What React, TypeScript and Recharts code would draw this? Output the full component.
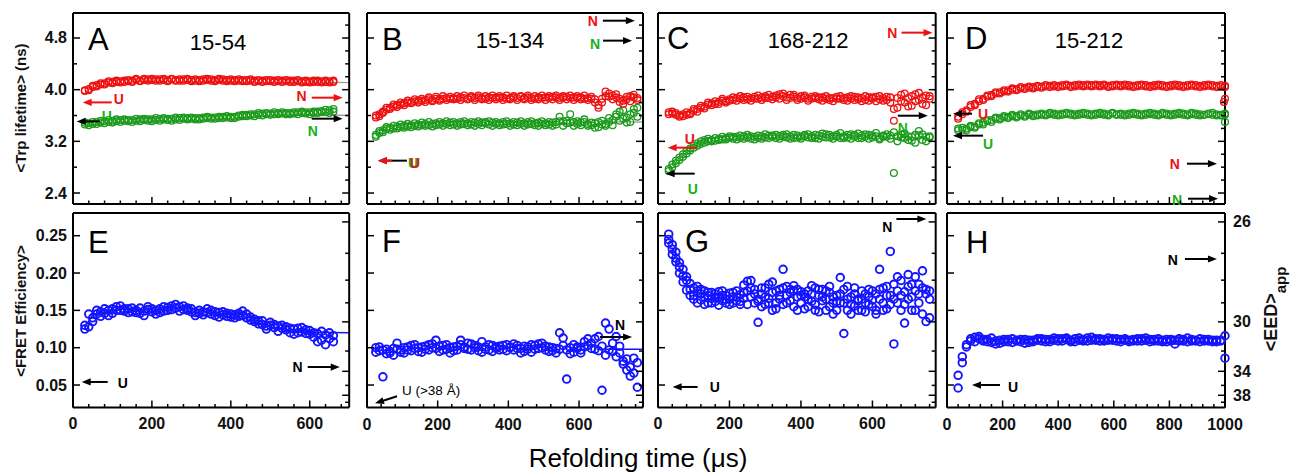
import React from 'react';
import { ComposedChart, Scatter, Line, XAxis, YAxis } from 'recharts';

const FONT = '"Liberation Sans", Arial, Helvetica, sans-serif';
const RED = '#ee1111';
const GREEN = '#1c9a1c';
const GREEN_T = '#17b017';
const BLUE = '#1414ff';
const GRAY = '#9a9a9a';

// ---------------- sampling times (µs) ----------------
const timesA = [30,40,50,60,70,80,90,100,110,120,130,140,150,160,170,180,190,200,210,220,230,240,250,260,270,280,290,300,310,320,330,340,350,360,370,380,390,400,410,420,430,440,450,460,470,480,490,500,510,520,530,540,550,560,570,580,590,600,610,620,630,640,650,660];
const timesB = [25,35,45,55,65,75,85,95,105,115,125,135,145,155,165,175,185,195,205,215,225,235,245,255,265,275,285,295,305,315,325,335,345,355,365,375,385,395,405,415,425,435,445,455,465,475,485,495,505,515,525,535,545,555,565,575,585,595,605,615,625,635,645,655,665,675,685,695,705,715,725,735,745,755,765];
const timesC = [30,40,50,60,70,80,90,100,110,120,130,140,150,160,170,180,190,200,210,220,230,240,250,260,270,280,290,300,310,320,330,340,350,360,370,380,390,400,410,420,430,440,450,460,470,480,490,500,510,520,530,540,550,560,570,580,590,600,610,620,630,640,650,660,670,680,690,700,710,720,730,740,750,760];
const timesD = [40,55,70,85,100,115,130,145,160,175,190,205,220,235,250,265,280,295,310,325,340,355,370,385,400,415,430,445,460,475,490,505,520,535,550,565,580,595,610,625,640,655,670,685,700,715,730,745,760,775,790,805,820,835,850,865,880,895,910,925,940,955,970,985,1000];

// ---------------- Trp lifetime (ns) ----------------
const redA = [3.98,4.01,4.04,4.07,4.08,4.10,4.11,4.12,4.12,4.13,4.14,4.13,4.14,4.15,4.14,4.15,4.16,4.15,4.14,4.16,4.15,4.15,4.16,4.15,4.14,4.16,4.15,4.15,4.14,4.15,4.16,4.15,4.14,4.15,4.15,4.14,4.15,4.14,4.15,4.14,4.13,4.15,4.14,4.14,4.13,4.14,4.15,4.13,4.14,4.13,4.14,4.13,4.12,4.14,4.13,4.13,4.12,4.13,4.14,4.12,4.13,4.12,4.13,4.12];
const redA2 = [3.99,3.99,4.06,4.05,4.10,4.08,4.13,4.10,4.14,4.11,4.12,4.15,4.12,4.17,4.13,4.17,4.14,4.17,4.16,4.14,4.17,4.13,4.17,4.14,4.16,4.14,4.17,4.13,4.16,4.13,4.14,4.17,4.16,4.13,4.17,4.16,4.13,4.16,4.13,4.16,4.15,4.13,4.16,4.12,4.15,4.12,4.13,4.15,4.12,4.15,4.12,4.15,4.14,4.12,4.15,4.11,4.14,4.11,4.12,4.14,4.11,4.14,4.11,4.14];
const greenA = [3.46,3.48,3.47,3.50,3.49,3.51,3.50,3.52,3.51,3.53,3.52,3.51,3.53,3.52,3.54,3.53,3.52,3.54,3.53,3.55,3.54,3.53,3.55,3.54,3.56,3.55,3.56,3.55,3.54,3.56,3.57,3.56,3.55,3.57,3.56,3.58,3.57,3.56,3.58,3.60,3.59,3.61,3.60,3.62,3.61,3.63,3.62,3.63,3.62,3.64,3.63,3.62,3.64,3.63,3.65,3.64,3.63,3.65,3.64,3.66,3.67,3.65,3.68,3.66];
const greenA2 = [3.49,3.45,3.50,3.47,3.52,3.48,3.53,3.49,3.54,3.50,3.54,3.53,3.50,3.55,3.51,3.55,3.54,3.51,3.56,3.52,3.56,3.55,3.52,3.57,3.53,3.57,3.54,3.57,3.56,3.54,3.55,3.58,3.57,3.55,3.58,3.56,3.59,3.58,3.56,3.58,3.61,3.59,3.62,3.59,3.64,3.60,3.64,3.61,3.65,3.62,3.65,3.64,3.62,3.65,3.62,3.66,3.65,3.62,3.66,3.64,3.65,3.69,3.64,3.70];

const redB = [3.57,3.62,3.66,3.69,3.72,3.74,3.76,3.77,3.79,3.80,3.81,3.82,3.83,3.83,3.84,3.85,3.84,3.86,3.85,3.86,3.87,3.86,3.87,3.86,3.88,3.87,3.86,3.88,3.87,3.88,3.87,3.86,3.88,3.87,3.88,3.87,3.88,3.86,3.87,3.88,3.87,3.89,3.87,3.88,3.87,3.86,3.88,3.87,3.88,3.87,3.89,3.88,3.87,3.88,3.89,3.87,3.88,3.87,3.88,3.86,3.87,3.86,3.85,3.72,3.80,3.90,3.94,3.91,3.88,3.86,3.83,3.85,3.90,3.88,3.84];
const redB2 = [3.60,3.59,3.64,3.72,3.70,3.77,3.73,3.80,3.76,3.83,3.79,3.85,3.80,3.86,3.81,3.88,3.82,3.89,3.83,3.90,3.84,3.89,3.85,3.90,3.84,3.91,3.85,3.90,3.84,3.91,3.85,3.90,3.84,3.91,3.85,3.90,3.84,3.91,3.85,3.90,3.84,3.90,3.85,3.91,3.84,3.90,3.85,3.91,3.84,3.90,3.85,3.91,3.84,3.90,3.85,3.91,3.84,3.90,3.85,3.91,3.84,3.89,3.80,3.76,3.86,3.97,3.89,3.85,3.93,3.81,3.78,3.89,3.82,3.92,3.87];
const greenB = [3.27,3.33,3.37,3.39,3.41,3.40,3.43,3.42,3.44,3.43,3.45,3.44,3.46,3.45,3.47,3.45,3.47,3.48,3.46,3.48,3.47,3.49,3.46,3.48,3.50,3.47,3.48,3.46,3.49,3.47,3.49,3.48,3.46,3.49,3.47,3.48,3.50,3.47,3.48,3.46,3.49,3.47,3.48,3.50,3.47,3.48,3.49,3.47,3.48,3.46,3.49,3.50,3.58,3.51,3.48,3.62,3.50,3.47,3.49,3.54,3.47,3.45,3.48,3.42,3.46,3.44,3.50,3.53,3.58,3.66,3.55,3.49,3.62,3.70,3.58];
const greenB2 = [3.30,3.36,3.34,3.42,3.38,3.44,3.40,3.46,3.41,3.47,3.42,3.48,3.43,3.49,3.44,3.50,3.43,3.45,3.50,3.44,3.51,3.45,3.50,3.44,3.46,3.51,3.45,3.50,3.44,3.51,3.45,3.50,3.51,3.44,3.50,3.45,3.46,3.51,3.44,3.50,3.45,3.51,3.44,3.46,3.51,3.45,3.44,3.51,3.45,3.50,3.44,3.46,3.51,3.44,3.52,3.49,3.44,3.51,3.45,3.50,3.44,3.49,3.41,3.50,3.52,3.47,3.56,3.45,3.62,3.52,3.68,3.57,3.50,3.64,3.72];

const redC = [3.65,3.63,3.61,3.60,3.62,3.61,3.64,3.67,3.70,3.72,3.74,3.77,3.79,3.78,3.81,3.83,3.82,3.85,3.84,3.87,3.86,3.88,3.85,3.87,3.89,3.86,3.88,3.90,3.87,3.89,3.91,3.93,3.90,3.88,3.92,3.89,3.87,3.90,3.88,3.86,3.89,3.87,3.85,3.88,3.86,3.84,3.87,3.89,3.86,3.84,3.88,3.86,3.89,3.85,3.87,3.84,3.88,3.86,3.89,3.85,3.87,3.84,3.88,3.52,3.72,3.92,3.80,3.87,3.75,3.93,3.84,3.78,3.91,3.86];
const redC2 = [3.62,3.66,3.64,3.58,3.59,3.65,3.62,3.70,3.66,3.75,3.71,3.80,3.76,3.82,3.78,3.86,3.80,3.83,3.88,3.83,3.90,3.84,3.89,3.83,3.86,3.91,3.84,3.87,3.92,3.85,3.88,3.86,3.94,3.84,3.87,3.92,3.84,3.86,3.91,3.83,3.86,3.90,3.88,3.83,3.90,3.87,3.82,3.86,3.90,3.87,3.83,3.90,3.84,3.88,3.82,3.90,3.83,3.88,3.82,3.90,3.83,3.89,3.80,3.70,3.87,3.82,3.94,3.74,3.90,3.82,3.95,3.88,3.76,3.90];
const greenC = [2.74,2.80,2.86,2.91,2.96,3.01,3.06,3.10,3.13,3.16,3.18,3.20,3.22,3.21,3.24,3.23,3.25,3.26,3.24,3.27,3.25,3.28,3.26,3.24,3.27,3.25,3.28,3.26,3.29,3.27,3.25,3.28,3.30,3.26,3.28,3.25,3.29,3.27,3.30,3.26,3.28,3.25,3.29,3.27,3.31,3.26,3.28,3.30,3.25,3.28,3.26,3.31,3.27,3.25,3.29,3.27,3.30,3.26,3.28,3.25,3.29,3.27,3.24,2.71,3.28,3.31,3.25,3.22,3.27,3.18,3.29,3.22,3.27,3.26];
const greenC2 = [2.77,2.84,2.90,2.95,3.00,3.05,3.09,3.14,3.17,3.20,3.22,3.24,3.20,3.25,3.22,3.27,3.23,3.28,3.27,3.23,3.29,3.24,3.30,3.28,3.23,3.29,3.24,3.31,3.25,3.29,3.30,3.24,3.27,3.31,3.24,3.30,3.26,3.24,3.28,3.31,3.25,3.30,3.24,3.32,3.26,3.30,3.24,3.27,3.33,3.25,3.30,3.24,3.30,3.32,3.25,3.31,3.24,3.29,3.33,3.23,3.27,3.31,3.29,3.34,3.20,3.26,3.32,3.28,3.21,3.30,3.36,3.31,3.20,3.28];

const redD = [3.55,3.62,3.68,3.73,3.78,3.82,3.86,3.89,3.92,3.94,3.96,3.97,3.99,4.00,4.01,4.02,4.03,4.03,4.04,4.04,4.05,4.05,4.06,4.05,4.06,4.07,4.06,4.06,4.07,4.06,4.07,4.06,4.07,4.06,4.07,4.06,4.06,4.07,4.06,4.07,4.06,4.05,4.06,4.07,4.06,4.05,4.06,4.07,4.06,4.05,4.06,4.07,4.06,4.05,4.06,4.07,4.06,4.05,4.06,4.07,4.06,4.05,4.06,4.05,4.04];
const redD2 = [3.58,3.65,3.66,3.76,3.76,3.85,3.84,3.91,3.90,3.96,3.94,3.99,3.97,4.02,3.99,4.04,4.01,4.05,4.02,4.06,4.03,4.07,4.04,4.07,4.04,4.05,4.08,4.04,4.05,4.08,4.05,4.08,4.05,4.08,4.05,4.08,4.04,4.05,4.08,4.05,4.08,4.07,4.04,4.05,4.08,4.07,4.04,4.05,4.08,4.07,4.04,4.05,4.08,4.07,4.04,4.05,4.08,4.07,4.04,4.05,4.08,4.07,4.04,4.07,4.06];
const greenD = [3.40,3.38,3.40,3.42,3.43,3.46,3.49,3.51,3.53,3.55,3.56,3.57,3.58,3.59,3.59,3.60,3.60,3.61,3.61,3.62,3.61,3.62,3.62,3.61,3.62,3.63,3.62,3.61,3.62,3.63,3.62,3.61,3.62,3.63,3.62,3.61,3.62,3.63,3.62,3.61,3.62,3.63,3.62,3.61,3.62,3.63,3.62,3.61,3.62,3.62,3.61,3.62,3.63,3.62,3.61,3.62,3.62,3.61,3.62,3.61,3.62,3.61,3.60,3.61,3.61];
const greenD2 = [3.37,3.41,3.37,3.44,3.41,3.48,3.46,3.53,3.50,3.57,3.54,3.59,3.56,3.61,3.57,3.62,3.58,3.63,3.59,3.60,3.63,3.60,3.64,3.63,3.60,3.61,3.64,3.63,3.60,3.61,3.64,3.63,3.60,3.61,3.64,3.63,3.60,3.64,3.61,3.63,3.60,3.61,3.64,3.63,3.60,3.61,3.64,3.63,3.60,3.64,3.63,3.60,3.61,3.64,3.63,3.60,3.64,3.63,3.60,3.61,3.63,3.64,3.62,3.60,3.63];
const redDOutlierTimes = [1000, 996];
const redDOutliers = [3.86, 3.81];
const greenDOutlierTimes = [1000];
const greenDOutliers = [3.50];

// ---------------- FRET efficiency ----------------
const blueE1 = [0.125,0.128,0.140,0.145,0.148,0.146,0.150,0.152,0.155,0.150,0.149,0.152,0.148,0.150,0.146,0.149,0.151,0.148,0.150,0.152,0.149,0.154,0.156,0.153,0.155,0.151,0.150,0.148,0.147,0.146,0.148,0.152,0.145,0.143,0.147,0.144,0.142,0.141,0.140,0.146,0.149,0.140,0.137,0.135,0.136,0.131,0.129,0.130,0.127,0.129,0.126,0.124,0.120,0.125,0.126,0.121,0.124,0.118,0.114,0.119,0.110,0.117,0.112,0.116];
const blueE2 = [0.130,0.145,0.135,0.150,0.142,0.152,0.143,0.146,0.150,0.156,0.152,0.147,0.153,0.147,0.153,0.143,0.155,0.152,0.145,0.147,0.155,0.150,0.151,0.158,0.149,0.156,0.153,0.152,0.143,0.150,0.144,0.147,0.150,0.148,0.141,0.148,0.146,0.145,0.144,0.142,0.143,0.145,0.141,0.138,0.132,0.136,0.125,0.134,0.131,0.122,0.130,0.128,0.126,0.118,0.120,0.127,0.119,0.123,0.120,0.108,0.122,0.104,0.120,0.108];
const blueF1 = [0.094,0.101,0.097,0.092,0.095,0.090,0.098,0.094,0.100,0.097,0.103,0.099,0.095,0.101,0.098,0.104,0.100,0.110,0.102,0.097,0.104,0.100,0.096,0.102,0.110,0.101,0.098,0.105,0.100,0.096,0.108,0.101,0.097,0.103,0.099,0.102,0.098,0.104,0.100,0.097,0.103,0.099,0.095,0.101,0.104,0.098,0.105,0.100,0.097,0.101,0.096,0.099,0.120,0.103,0.058,0.100,0.094,0.101,0.097,0.108,0.103,0.099,0.112,0.096,0.043,0.133,0.125,0.095,0.088,0.102,0.082,0.070,0.062,0.086,0.047];
const blueF2 = [0.100,0.096,0.061,0.098,0.093,0.099,0.106,0.097,0.093,0.101,0.096,0.104,0.100,0.094,0.102,0.097,0.105,0.099,0.095,0.103,0.098,0.093,0.101,0.097,0.104,0.099,0.106,0.097,0.103,0.101,0.094,0.098,0.104,0.095,0.101,0.097,0.103,0.096,0.101,0.105,0.099,0.093,0.102,0.098,0.094,0.103,0.099,0.106,0.102,0.095,0.100,0.093,0.098,0.113,0.097,0.092,0.104,0.099,0.093,0.101,0.112,0.106,0.098,0.115,0.102,0.090,0.097,0.106,0.115,0.093,0.078,0.085,0.074,0.066,0.080];
const blueG1 = [0.252,0.238,0.228,0.214,0.205,0.195,0.186,0.180,0.176,0.172,0.168,0.170,0.166,0.172,0.168,0.163,0.170,0.165,0.168,0.163,0.171,0.184,0.176,0.168,0.160,0.134,0.172,0.180,0.166,0.174,0.160,0.178,0.205,0.170,0.163,0.176,0.168,0.160,0.172,0.165,0.183,0.158,0.170,0.163,0.176,0.155,0.168,0.162,0.194,0.119,0.165,0.158,0.172,0.163,0.176,0.160,0.168,0.155,0.172,0.205,0.160,0.170,0.229,0.105,0.176,0.190,0.133,0.182,0.168,0.195,0.160,0.203,0.172,0.165];
const blueG2 = [0.245,0.232,0.220,0.208,0.196,0.190,0.178,0.170,0.182,0.164,0.176,0.160,0.174,0.162,0.175,0.170,0.160,0.173,0.160,0.176,0.158,0.166,0.189,0.180,0.172,0.162,0.155,0.168,0.185,0.150,0.176,0.165,0.158,0.182,0.174,0.155,0.178,0.170,0.152,0.176,0.162,0.150,0.178,0.168,0.150,0.174,0.145,0.170,0.160,0.178,0.150,0.168,0.156,0.165,0.150,0.172,0.158,0.176,0.150,0.165,0.180,0.152,0.170,0.185,0.160,0.150,0.175,0.198,0.150,0.176,0.185,0.145,0.178,0.140];
const blueG3 = [0.240,0.225,0.215,0.200,0.188,0.177,0.170,0.165,0.160,0.178,0.158,0.174,0.160,0.168,0.157,0.176,0.165,0.158,0.174,0.168,0.162,0.174,0.158,0.190,0.178,0.165,0.180,0.158,0.160,0.188,0.152,0.170,0.180,0.160,0.178,0.183,0.150,0.175,0.168,0.155,0.172,0.180,0.148,0.178,0.165,0.182,0.160,0.150,0.172,0.160,0.182,0.145,0.180,0.150,0.165,0.148,0.178,0.164,0.145,0.178,0.150,0.182,0.158,0.165,0.195,0.170,0.158,0.165,0.185,0.150,0.172,0.180,0.135,0.176];
const blueH1 = [0.046,0.080,0.101,0.109,0.114,0.112,0.109,0.111,0.107,0.105,0.110,0.108,0.111,0.107,0.110,0.108,0.111,0.107,0.110,0.112,0.109,0.111,0.108,0.110,0.112,0.109,0.111,0.108,0.112,0.110,0.109,0.113,0.110,0.112,0.109,0.111,0.110,0.112,0.109,0.111,0.110,0.108,0.111,0.109,0.112,0.110,0.108,0.111,0.109,0.110,0.108,0.111,0.105,0.109,0.111,0.113,0.109,0.110,0.108,0.111,0.109,0.110,0.108,0.110,0.116];
const blueH2 = [0.063,0.088,0.104,0.112,0.108,0.115,0.111,0.108,0.113,0.109,0.106,0.111,0.108,0.112,0.109,0.111,0.106,0.110,0.108,0.110,0.112,0.108,0.111,0.113,0.109,0.112,0.113,0.110,0.108,0.113,0.111,0.109,0.114,0.110,0.112,0.109,0.113,0.110,0.112,0.108,0.112,0.110,0.109,0.112,0.109,0.113,0.111,0.109,0.112,0.108,0.111,0.109,0.110,0.112,0.109,0.108,0.111,0.109,0.112,0.109,0.111,0.108,0.110,0.109,0.086];

// fitted curve tails
const fitRedATimes = [600, 700]; const fitRedA = [4.12, 4.11];
const fitGreenATimes = [640, 700]; const fitGreenA = [3.61, 3.60];
const fitRedBTimes = [700, 780]; const fitRedB = [3.88, 3.88];
const fitGreenBTimes = [700, 780]; const fitGreenB = [3.50, 3.50];
const fitETimes = [560, 700]; const fitE = [0.121, 0.120];
const fitFTimes = [650, 780]; const fitF = [0.098, 0.098];

// ---------------- axis tick labels ----------------
const xLabels800 = [0, 200, 400, 600];
const xLabels1000 = [0, 200, 400, 600, 800, 1000];
const yLabelsTop = [2.4, 3.2, 4.0, 4.8];
const yLeftTicksTop = [2.4, 2.8, 3.2, 3.6, 4.0, 4.4, 4.8];
const yRightTicksTop = [2.4, 2.6, 2.8, 3.0, 3.2, 3.4, 3.6, 3.8, 4.0, 4.2, 4.4, 4.6, 4.8, 5.0];
const yLabelsBottom = [0.05, 0.10, 0.15, 0.20, 0.25];
const eedLabels = [26, 30, 34, 38];
const eedTicks = [26, 27, 28, 29, 30, 32, 34, 36, 38, 40];
const R0 = 22; // Förster distance (Å) used for the <EED>app scale
const eedToE = (r: number) => 1 / (1 + Math.pow(r / R0, 6));
const eedTickValues = eedTicks.map(eedToE);

const near = (a: number, list: number[], tol = 1e-6) => list.some((b) => Math.abs(a - b) < tol);
const unionSorted = (a: number[], b: number[]) => {
  const out = [...a];
  b.forEach((v) => { if (!near(v, out)) out.push(v); });
  return out.sort((x, y) => x - y);
};
const yTicksTopAll = unionSorted(yLeftTicksTop, yRightTicksTop);
const yTicksBottomAll = unionSorted(yLabelsBottom, eedTickValues);

const xTicksFor = (xMax: number) => {
  const out: number[] = [];
  for (let t = 0; t <= xMax + 1e-9; t += 40) out.push(t);
  return out;
};
const xTicks700 = xTicksFor(700);
const xTicks781 = xTicksFor(781);
const xTicks777 = xTicksFor(777);
const xTicks1000 = xTicksFor(1000);

const pts = (ts: number[], vs: number[]) => ts.map((t, i) => ({ t, v: vs[i] }));

// ---------------- layout ----------------
const PADL = 50, PADR = 50, PADT = 10, PADB = 40;

type Ann = {
  t: number; v: number; dir: 'L' | 'R' | 'D' | 'none'; len?: number; tdx?: number; tdy?: number;
  arrow?: string; label: string; color: string; dx: number; dy: number; anchor?: string;
  size?: number; weight?: number;
};

const annA: Ann[] = [
  { t: 24.6, v: 3.803, dir: 'L', len: 29, arrow: RED, label: 'U', color: RED, dx: 31, dy: 1.5 },
  { t: 683.6, v: 3.876, dir: 'R', len: 31, arrow: RED, label: 'N', color: RED, dx: -36, dy: 3, anchor: 'end' },
  { t: 9.4, v: 3.509, dir: 'L', len: 23, arrow: '#000', label: 'U', color: GREEN_T, dx: 25, dy: -0.5 },
  { t: 683.6, v: 3.551, dir: 'R', len: 31, arrow: '#000', label: 'N', color: GREEN_T, dx: -35, dy: 17 },
];
const annB: Ann[] = [
  { t: 758, v: 5.068, dir: 'R', len: 32, arrow: '#000', label: 'N', color: RED, dx: -37, dy: 5, anchor: 'end' },
  { t: 750, v: 4.759, dir: 'R', len: 29, arrow: '#000', label: 'N', color: GREEN_T, dx: -32, dy: 8, anchor: 'end' },
  { t: 31, v: 2.901, dir: 'L', len: 29, arrow: '#000', label: 'U', color: GREEN_T, dx: 30, dy: 7 },
  { t: 31, v: 2.901, dir: 'L', len: 14, arrow: RED, label: 'U', color: RED, dx: 32, dy: 7 },
];
const annC: Ann[] = [
  { t: 768, v: 4.883, dir: 'R', len: 31, arrow: RED, label: 'N', color: RED, dx: -35, dy: 5, anchor: 'end' },
  { t: 755, v: 3.597, dir: 'R', len: 30, arrow: '#000', label: 'N', color: GREEN_T, dx: -30, dy: 17 },
  { t: 27, v: 3.102, dir: 'L', len: 29, arrow: RED, label: 'U', color: RED, dx: 17, dy: -4 },
  { t: 21.5, v: 2.7, dir: 'L', len: 29, arrow: '#000', label: 'U', color: GREEN_T, dx: 22, dy: 20 },
];
const annD: Ann[] = [
  { t: 21.6, v: 3.628, dir: 'L', len: 19, arrow: '#000', label: 'U', color: RED, dx: 25, dy: 5 },
  { t: 21.6, v: 3.288, dir: 'L', len: 30, arrow: '#000', label: 'U', color: GREEN_T, dx: 30, dy: 13 },
  { t: 971, v: 2.854, dir: 'R', len: 30, arrow: '#000', label: 'N', color: RED, dx: -37, dy: 5, anchor: 'end' },
  { t: 975, v: 2.312, dir: 'R', len: 30, arrow: '#000', label: 'N', color: GREEN_T, dx: -36, dy: 6, anchor: 'end' },
];
const annE: Ann[] = [
  { t: 22, v: 0.0541, dir: 'L', len: 26, arrow: '#000', label: 'U', color: '#000', dx: 36, dy: 6 },
  { t: 676, v: 0.0741, dir: 'R', len: 32, arrow: '#000', label: 'N', color: '#000', dx: -37, dy: 5, anchor: 'end' },
];
const annF: Ann[] = [
  { t: 22.6, v: 0.0255, dir: 'D', tdx: 22, tdy: -7, arrow: '#000', label: 'U (>38 Å)', color: '#000', dx: 27, dy: -8, size: 13.5, weight: 400 },
  { t: 750, v: 0.1143, dir: 'R', len: 32, arrow: '#000', label: 'N', color: '#000', dx: -17, dy: -7 },
];
const annG: Ann[] = [
  { t: 751, v: 0.2724, dir: 'R', len: 30, arrow: '#000', label: 'N', color: '#000', dx: -34, dy: 13, anchor: 'end' },
  { t: 41, v: 0.0474, dir: 'L', len: 25, arrow: '#000', label: 'U', color: '#000', dx: 37, dy: 5 },
];
const annH: Ann[] = [
  { t: 971, v: 0.2188, dir: 'R', len: 32, arrow: '#000', label: 'N', color: '#000', dx: -39, dy: 6, anchor: 'end' },
  { t: 90, v: 0.05, dir: 'L', len: 28, arrow: '#000', label: 'U', color: '#000', dx: 36, dy: 7 },
];

type Series = { data: { t: number; v: number }[]; color: string; r: number; sw: number };
type Fit = { data: { t: number; v: number }[]; color: string; width: number };
type PanelCfg = {
  key: string; left: number; top: number; w: number; h: number; xMax: number; xTicks: number[];
  yDomain: [number, number]; row: 'top' | 'bottom'; xLabels: number[];
  showX: boolean; showY: boolean; showEED: boolean;
  series: Series[]; fits: Fit[]; anns: Ann[];
};

const TOPR = 3.4, TOPSW = 1.3, BOTR = 3.8, BOTSW = 1.9;
const topDomain: [number, number] = [2.23, 5.187];
const botDomain: [number, number] = [0.0199, 0.2804];

const panels: PanelCfg[] = [
  {
    key: 'A', left: 73.3, top: 13, w: 276.2, h: 191, xMax: 700, xTicks: xTicks700, yDomain: topDomain, row: 'top', xLabels: xLabels800,
    showX: false, showY: true, showEED: false,
    series: [
      { data: pts(timesA, greenA), color: GREEN, r: TOPR, sw: TOPSW },
      { data: pts(timesA, greenA2), color: GREEN, r: TOPR, sw: TOPSW },
      { data: pts(timesA, redA), color: RED, r: TOPR, sw: TOPSW },
      { data: pts(timesA, redA2), color: RED, r: TOPR, sw: TOPSW },
    ],
    fits: [
      { data: pts(fitRedATimes, fitRedA), color: GRAY, width: 1.3 },
      { data: pts(fitGreenATimes, fitGreenA), color: GRAY, width: 1.3 },
    ],
    anns: annA,
  },
  {
    key: 'B', left: 367, top: 13, w: 276, h: 191, xMax: 781, xTicks: xTicks781, yDomain: topDomain, row: 'top', xLabels: xLabels800,
    showX: false, showY: false, showEED: false,
    series: [
      { data: pts(timesB, greenB), color: GREEN, r: TOPR, sw: TOPSW },
      { data: pts(timesB, greenB2), color: GREEN, r: TOPR, sw: TOPSW },
      { data: pts(timesB, redB), color: RED, r: TOPR, sw: TOPSW },
      { data: pts(timesB, redB2), color: RED, r: TOPR, sw: TOPSW },
    ],
    fits: [
      { data: pts(fitRedBTimes, fitRedB), color: GRAY, width: 1.3 },
      { data: pts(fitGreenBTimes, fitGreenB), color: GRAY, width: 1.3 },
    ],
    anns: annB,
  },
  {
    key: 'C', left: 658.3, top: 13, w: 277.7, h: 191, xMax: 777, xTicks: xTicks777, yDomain: topDomain, row: 'top', xLabels: xLabels800,
    showX: false, showY: false, showEED: false,
    series: [
      { data: pts(timesC, greenC), color: GREEN, r: TOPR, sw: TOPSW },
      { data: pts(timesC, greenC2), color: GREEN, r: TOPR, sw: TOPSW },
      { data: pts(timesC, redC), color: RED, r: TOPR, sw: TOPSW },
      { data: pts(timesC, redC2), color: RED, r: TOPR, sw: TOPSW },
    ],
    fits: [],
    anns: annC,
  },
  {
    key: 'D', left: 947, top: 13, w: 278, h: 191, xMax: 1000, xTicks: xTicks1000, yDomain: topDomain, row: 'top', xLabels: xLabels1000,
    showX: false, showY: false, showEED: false,
    series: [
      { data: pts(timesD, greenD), color: GREEN, r: TOPR, sw: TOPSW },
      { data: pts(timesD, greenD2), color: GREEN, r: TOPR, sw: TOPSW },
      { data: pts(greenDOutlierTimes, greenDOutliers), color: GREEN, r: TOPR, sw: TOPSW },
      { data: pts(timesD, redD), color: RED, r: TOPR, sw: TOPSW },
      { data: pts(timesD, redD2), color: RED, r: TOPR, sw: TOPSW },
      { data: pts(redDOutlierTimes, redDOutliers), color: RED, r: TOPR, sw: TOPSW },
    ],
    fits: [],
    anns: annD,
  },
  {
    key: 'E', left: 73.3, top: 213, w: 276.2, h: 194.5, xMax: 700, xTicks: xTicks700, yDomain: botDomain, row: 'bottom', xLabels: xLabels800,
    showX: true, showY: true, showEED: false,
    series: [
      { data: pts(timesA, blueE1), color: BLUE, r: BOTR, sw: BOTSW },
      { data: pts(timesA, blueE2), color: BLUE, r: BOTR, sw: BOTSW },
    ],
    fits: [{ data: pts(fitETimes, fitE), color: BLUE, width: 1.6 }],
    anns: annE,
  },
  {
    key: 'F', left: 367, top: 213, w: 276, h: 194.5, xMax: 781, xTicks: xTicks781, yDomain: botDomain, row: 'bottom', xLabels: xLabels800,
    showX: true, showY: false, showEED: false,
    series: [
      { data: pts(timesB, blueF1), color: BLUE, r: BOTR, sw: BOTSW },
      { data: pts(timesB, blueF2), color: BLUE, r: BOTR, sw: BOTSW },
    ],
    fits: [{ data: pts(fitFTimes, fitF), color: BLUE, width: 1.6 }],
    anns: annF,
  },
  {
    key: 'G', left: 658.3, top: 213, w: 277.7, h: 194.5, xMax: 777, xTicks: xTicks777, yDomain: botDomain, row: 'bottom', xLabels: xLabels800,
    showX: true, showY: false, showEED: false,
    series: [
      { data: pts(timesC, blueG1), color: BLUE, r: BOTR, sw: BOTSW },
      { data: pts(timesC, blueG2), color: BLUE, r: BOTR, sw: BOTSW },
      { data: pts(timesC, blueG3), color: BLUE, r: BOTR, sw: BOTSW },
    ],
    fits: [],
    anns: annG,
  },
  {
    key: 'H', left: 947, top: 213, w: 278, h: 194.5, xMax: 1000, xTicks: xTicks1000, yDomain: botDomain, row: 'bottom', xLabels: xLabels1000,
    showX: true, showY: false, showEED: true,
    series: [
      { data: pts(timesD, blueH1), color: BLUE, r: BOTR, sw: BOTSW },
      { data: pts(timesD, blueH2), color: BLUE, r: BOTR, sw: BOTSW },
    ],
    fits: [],
    anns: annH,
  },
];

const circleShape = (color: string, r: number, sw: number) => (p: any) => {
  if (p.cx == null || p.cy == null) return <g />;
  return <circle cx={p.cx} cy={p.cy} r={r} fill="none" stroke={color} strokeWidth={sw} />;
};

function AnnShape(p: any) {
  const { cx, cy } = p;
  const a: Ann = p.payload;
  if (cx == null || cy == null || !a) return <g />;
  const parts: any[] = [];
  if (a.dir !== 'none') {
    let tx = cx, ty = cy;
    if (a.dir === 'L') tx = cx + (a.len || 0);
    else if (a.dir === 'R') tx = cx - (a.len || 0);
    else { tx = cx + (a.tdx || 0); ty = cy + (a.tdy || 0); }
    const ang = Math.atan2(cy - ty, cx - tx);
    const hl = 9, hw = 3.6;
    const bx = cx - hl * Math.cos(ang), by = cy - hl * Math.sin(ang);
    const px = -Math.sin(ang) * hw, py = Math.cos(ang) * hw;
    const col = a.arrow || '#000';
    parts.push(<line key="l" x1={tx} y1={ty} x2={bx + Math.cos(ang) * 2} y2={by + Math.sin(ang) * 2} stroke={col} strokeWidth={2} />);
    parts.push(<polygon key="h" points={`${cx},${cy} ${bx + px},${by + py} ${bx - px},${by - py}`} fill={col} />);
  }
  parts.push(
    <text key="t" x={cx + a.dx} y={cy + a.dy} textAnchor={a.anchor || 'start'} fontFamily={FONT}
      fontSize={a.size || 14} fontWeight={a.weight || 700} fill={a.color}>{a.label}</text>
  );
  return <g>{parts}</g>;
}

const AXIS_LINE = { stroke: '#000', strokeWidth: 2 };
const TICK_STROKE = { stroke: '#000', strokeWidth: 1.5 };
const TXT = { fontFamily: FONT, fontSize: 16, fontWeight: 700, fill: '#111' } as const;

function makeTicks(cfg: PanelCfg) {
  const plotL = PADL, plotR = PADL + cfg.w, plotT = PADT, plotB = PADT + cfg.h;
  const isTop = cfg.row === 'top';
  const leftSet = isTop ? yLeftTicksTop : yLabelsBottom;
  const bottomTick = (p: any) => {
    const x = p.x; const v = p.payload.value;
    const major = near(v, cfg.xLabels);
    return (
      <g>
        <line x1={x} x2={x} y1={plotB} y2={plotB - (major ? 7 : 3.5)} {...TICK_STROKE} />
        {cfg.showX && major ? <text x={x} y={plotB + 22} textAnchor="middle" {...TXT}>{v}</text> : null}
      </g>
    );
  };
  const topTick = (p: any) => {
    const x = p.x; const v = p.payload.value;
    const major = near(v, cfg.xLabels);
    return <line x1={x} x2={x} y1={plotT} y2={plotT + (major ? 7 : 3.5)} {...TICK_STROKE} />;
  };
  // one y tick renderer draws both the left-side and right-side marks
  const yTick = (p: any) => {
    const y = p.y; const v = p.payload.value;
    const parts: any[] = [];
    if (near(v, leftSet)) {
      const major = isTop ? near(v, yLabelsTop) : true;
      parts.push(<line key="ll" x1={plotL} x2={plotL + (major ? 7 : 4)} y1={y} y2={y} {...TICK_STROKE} />);
      if (cfg.showY && major) {
        parts.push(<text key="lt" x={plotL - 6} y={y + 5.5} textAnchor="end" {...TXT}>{isTop ? v.toFixed(1) : v.toFixed(2)}</text>);
      }
    }
    if (isTop) {
      if (near(v, yRightTicksTop)) {
        const major = near(v, yLabelsTop);
        parts.push(<line key="rl" x1={plotR} x2={plotR - (major ? 7 : 4)} y1={y} y2={y} {...TICK_STROKE} />);
      }
    } else {
      const k = eedTickValues.findIndex((e) => Math.abs(e - v) < 1e-9);
      if (k >= 0) {
        const r = eedTicks[k];
        const major = eedLabels.includes(r);
        parts.push(<line key="rl" x1={plotR} x2={plotR - (major ? 7 : 4)} y1={y} y2={y} {...TICK_STROKE} />);
        if (cfg.showEED && major) {
          parts.push(<text key="rt" x={plotR + 8} y={y + 5.5} textAnchor="start" {...TXT}>{String(r)}</text>);
        }
      }
    }
    return <g>{parts}</g>;
  };
  return { bottomTick, topTick, yTick };
}

const panelTicks = panels.map(makeTicks);
const circleShapes = panels.map((p) => p.series.map((s) => circleShape(s.color, s.r, s.sw)));

function Panel({ cfg, idx }: { cfg: PanelCfg; idx: number }) {
  const W = cfg.w + PADL + PADR;
  const H = cfg.h + PADT + PADB;
  const isTop = cfg.row === 'top';
  const yTicks = isTop ? yTicksTopAll : yTicksBottomAll;
  const tk = panelTicks[idx];

  return (
    <div style={{ position: 'absolute', left: cfg.left - PADL, top: cfg.top - PADT, width: W, height: H }}>
      <ComposedChart width={W} height={H} margin={{ top: 0, right: 0, bottom: 0, left: 0 }}>
        <XAxis xAxisId="b" type="number" dataKey="t" domain={[0, cfg.xMax]} ticks={cfg.xTicks} interval={0}
          height={PADB} tickLine={false} tickSize={0} tickMargin={0} axisLine={AXIS_LINE} tick={tk.bottomTick} />
        <XAxis xAxisId="t" orientation="top" type="number" dataKey="t" domain={[0, cfg.xMax]} ticks={cfg.xTicks} interval={0}
          height={PADT} tickLine={false} tickSize={0} tickMargin={0} axisLine={AXIS_LINE} tick={tk.topTick} />
        <YAxis yAxisId="l" type="number" dataKey="v" domain={cfg.yDomain} ticks={yTicks} interval={0}
          width={PADL} tickLine={false} tickSize={0} tickMargin={0} axisLine={AXIS_LINE} tick={tk.yTick} />
        <YAxis yAxisId="r" orientation="right" type="number" dataKey="v" domain={cfg.yDomain}
          width={PADR} tickLine={false} tick={false} axisLine={AXIS_LINE} />
        {cfg.fits.map((f, i) => (
          <Line key={'f' + i} xAxisId="b" yAxisId="l" data={f.data} dataKey="v" stroke={f.color} strokeWidth={f.width}
            dot={false} activeDot={false} isAnimationActive={false} type="linear" />
        ))}
        {cfg.series.map((s, i) => (
          <Scatter key={'s' + i} xAxisId="b" yAxisId="l" data={s.data} shape={circleShapes[idx][i]}
            isAnimationActive={false} />
        ))}
        <Scatter xAxisId="b" yAxisId="l" data={cfg.anns} shape={AnnShape} isAnimationActive={false} />
      </ComposedChart>
    </div>
  );
}

const letters = [
  { t: 'A', x: 88, y: 50 }, { t: 'B', x: 382, y: 50 }, { t: 'C', x: 667, y: 49 }, { t: 'D', x: 965, y: 49 },
  { t: 'E', x: 88, y: 253 }, { t: 'F', x: 382, y: 252 }, { t: 'G', x: 685, y: 252 }, { t: 'H', x: 966, y: 253 },
];
const titles = [
  { t: '15-54', x: 218, y: 50 }, { t: '15-134', x: 510, y: 48 }, { t: '168-212', x: 808, y: 48 }, { t: '15-212', x: 1089, y: 48 },
];

export default function App() {
  return (
    <div style={{ position: 'absolute', left: 0, top: 0, width: 1292, height: 476, background: '#fff', overflow: 'hidden' }}>
      {panels.map((p, i) => <Panel key={p.key} cfg={p} idx={i} />)}
      <svg width={1292} height={476} style={{ position: 'absolute', left: 0, top: 0, pointerEvents: 'none' }}>
        {letters.map((l) => (
          <text key={l.t} x={l.x} y={l.y} fontFamily={FONT} fontSize={31} fill="#000">{l.t}</text>
        ))}
        {titles.map((l) => (
          <text key={l.t} x={l.x} y={l.y} textAnchor="middle" fontFamily={FONT} fontSize={22} fill="#000">{l.t}</text>
        ))}
        <text transform="translate(26,108) rotate(-90)" textAnchor="middle" fontFamily={FONT} fontSize={15} fontWeight={700} fill="#111">
          {'<Trp lifetime> (ns)'}
        </text>
        <text transform="translate(26,311) rotate(-90)" textAnchor="middle" fontFamily={FONT} fontSize={15} fontWeight={700} fill="#111">
          {'<FRET Efficiency>'}
        </text>
        <text transform="translate(1277,309) rotate(-90)" textAnchor="middle" fontFamily={FONT} fontSize={18} fontWeight={700} fill="#111">
          {'<EED>'}
          <tspan dy={9} fontSize={15}>app</tspan>
        </text>
        <text x={638} y={467} textAnchor="middle" fontFamily={FONT} fontSize={26} fill="#000">Refolding time (μs)</text>
      </svg>
    </div>
  );
}
